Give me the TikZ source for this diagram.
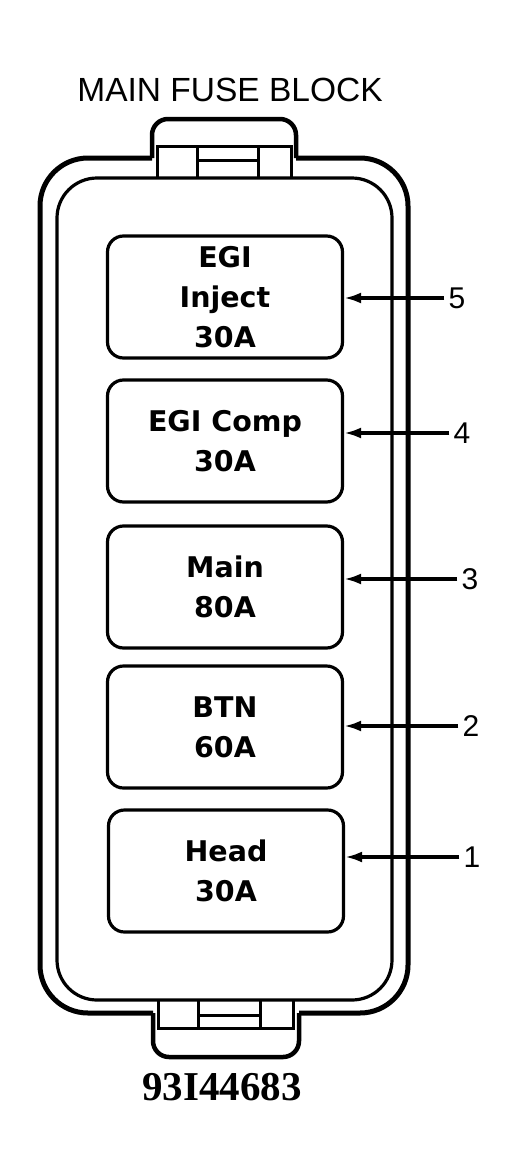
\documentclass[tikz,border=0pt]{standalone}
\usepackage{fontspec}
\usepackage{tikz}
\setmainfont{Liberation Sans}
\newfontfamily\fusefont{DejaVu Sans}
\newfontfamily\codefont{Liberation Serif}
\usetikzlibrary{arrows.meta}

\begin{document}
\begin{tikzpicture}[x=1pt, y=-1pt,
  rim/.style={line width=5pt, rounded corners=48pt},
  rimin/.style={line width=3.2pt, rounded corners=40pt},
  tabline/.style={line width=3pt},
  fusebox/.style={draw, line width=3.2pt, rounded corners=16pt,
    minimum width=235pt, minimum height=122pt, inner sep=0pt, align=center,
    font=\fusefont\bfseries\fontsize{28.5}{40}\selectfont},
  fusenum/.style={inner sep=4pt, font=\fontsize{30}{30}\selectfont},
  fusearrow/.style={line width=3.2pt, -{Latex[length=17pt,width=11pt]}}]
  \useasboundingbox (0,0) rectangle (518,1175);

  \node[font=\fontsize{33.5}{33.5}\selectfont] (title) at (230,90) {MAIN FUSE BLOCK};

  % Housing
  \draw[rim] (152,158) -- (40,158) -- (40,1013) -- (153,1013);
  \draw[rim] (299,1013) -- (408,1013) -- (408,158) -- (296,158);
  \draw[rimin] (57,178) rectangle (392,1000);

  % Top tab
  \draw[tabline, line width=4.5pt, rounded corners=16pt]
    (152,158) -- (152,119) -- (296,119) -- (296,158);
  \draw[tabline] (157,178) -- (157,146) -- (291,146) -- (291,178);
  \draw[tabline] (197,146) -- (197,178);
  \draw[tabline] (258,146) -- (258,178);
  \draw[tabline] (197,160) -- (258,160);

  % Bottom tab
  \draw[tabline, line width=4.5pt, rounded corners=16pt]
    (153,1013) -- (153,1057) -- (299,1057) -- (299,1013);
  \draw[tabline] (158,1000) -- (158,1028) -- (293,1028) -- (293,1000);
  \draw[tabline] (198,1000) -- (198,1028);
  \draw[tabline] (260,1000) -- (260,1028);
  \draw[tabline] (198,1015) -- (260,1015);

  % Fuses
  \node[fusebox] (f5) at (225,297) {EGI\\Inject\\30A};
  \node[fusebox] (f4) at (225,441) {EGI Comp\\30A};
  \node[fusebox] (f3) at (225,587) {Main\\80A};
  \node[fusebox] (f2) at (225,727) {BTN\\60A};
  \node[fusebox] (f1) at (226,871) {Head\\30A};

  % Callouts
  \node[fusenum] (n5) at (457,298) {5};
  \node[fusenum] (n4) at (462,433) {4};
  \node[fusenum] (n3) at (470,579) {3};
  \node[fusenum] (n2) at (471,726) {2};
  \node[fusenum] (n1) at (472,857) {1};
  \draw[fusearrow] (n5.west) -- (n5.west -| f5.east);
  \draw[fusearrow] (n4.west) -- (n4.west -| f4.east);
  \draw[fusearrow] (n3.west) -- (n3.west -| f3.east);
  \draw[fusearrow] (n2.west) -- (n2.west -| f2.east);
  \draw[fusearrow] (n1.west) -- (n1.west -| f1.east);

  \node[font=\codefont\bfseries\fontsize{41}{41}\selectfont] (code) at (222,1087) {93I44683};
\end{tikzpicture}
\end{document}
